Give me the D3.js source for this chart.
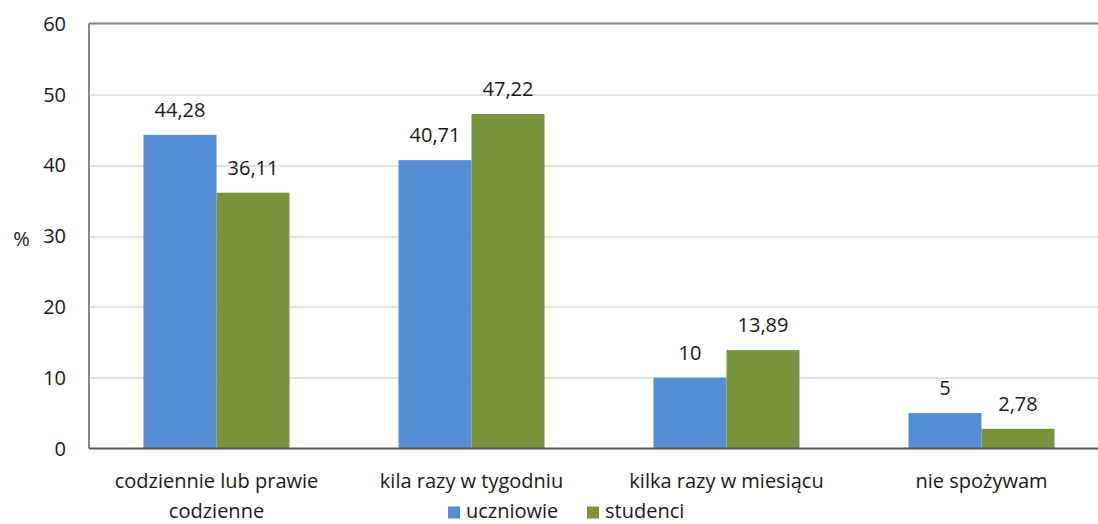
<!DOCTYPE html>
<html>
<head>
<meta charset="utf-8">
<script src="https://cdn.jsdelivr.net/npm/d3@7"></script>
<style>
  body { margin: 0; background: #fff; }
  text { font-family: "Open Sans", Lato, sans-serif; fill: #1a1a1a; }
</style>
</head>
<body>
<div id="chart-area"></div>
<script>
var categories = [["codziennie lub prawie", "codzienne"], ["kila razy w tygodniu"], ["kilka razy w miesiącu"], ["nie spożywam"]];
var seriesNames = ["uczniowie", "studenci"];
var uczniowie = [44.28, 40.71, 10, 5];
var studenci = [36.11, 47.22, 13.89, 2.78];
var yTicks = [0, 10, 20, 30, 40, 50, 60];
var colors = ["#558ED5", "#77933C"];

var W = 1098, H = 524;
var margin = { left: 89, right: -11, top: 23.5, bottom: 75.5 };
var width = W - margin.left - margin.right;
var height = H - margin.top - margin.bottom;
var fs = "20px";

var svg = d3.select("#chart-area").append("svg")
    .attr("width", W).attr("height", H);

var g = svg.append("g")
    .attr("transform", "translate(" + margin.left + "," + margin.top + ")");

var y = d3.scaleLinear().domain([0, 60]).range([height, 0]);
var x = d3.scaleBand().domain(d3.range(categories.length)).range([0, width]);
var x1 = d3.scaleBand().domain([0, 1])
    .range([x.bandwidth() / 2 - 73, x.bandwidth() / 2 + 73]);

// gridlines
g.selectAll(".grid").data(yTicks.filter(function(d){ return d > 0 && d < 60; }))
  .enter().append("line")
    .attr("x1", 0).attr("x2", width)
    .attr("y1", function(d){ return Math.round(y(d)) + 0.5; })
    .attr("y2", function(d){ return Math.round(y(d)) + 0.5; })
    .attr("stroke", "#D9D9D9").attr("stroke-width", 1.3);

// bars
var data = [];
categories.forEach(function(c, i){
    data.push({ cat: i, s: 0, v: uczniowie[i] });
    data.push({ cat: i, s: 1, v: studenci[i] });
});

g.selectAll("rect.bar").data(data).enter().append("rect")
    .attr("class", "bar")
    .attr("x", function(d){ return x(d.cat) + x1(d.s); })
    .attr("width", x1.bandwidth())
    .attr("y", function(d){ return y(d.v); })
    .attr("height", function(d){ return height - y(d.v); })
    .attr("fill", function(d){ return colors[d.s]; });

// value labels
g.selectAll("text.val").data(data).enter().append("text")
    .attr("class", "val")
    .attr("x", function(d){ return x(d.cat) + x1(d.s) + x1.bandwidth() / 2; })
    .attr("y", function(d){ return y(d.v) - 18; })
    .attr("text-anchor", "middle")
    .style("font-size", fs)
    .text(function(d){ return String(d.v).replace(".", ","); });

// frame lines
g.append("line").attr("x1", 0).attr("x2", width).attr("y1", 0).attr("y2", 0)
    .attr("stroke", "#868686").attr("stroke-width", 2);
g.append("line").attr("x1", 0).attr("x2", 0).attr("y1", 0).attr("y2", height)
    .attr("stroke", "#868686").attr("stroke-width", 2);
g.append("line").attr("x1", 0).attr("x2", width).attr("y1", height).attr("y2", height)
    .attr("stroke", "#595959").attr("stroke-width", 2);

// y tick labels
g.selectAll("text.ytick").data(yTicks).enter().append("text")
    .attr("class", "ytick")
    .attr("x", -23)
    .attr("y", function(d){ return y(d); })
    .attr("dy", "0.36em")
    .attr("text-anchor", "end")
    .style("font-size", fs)
    .text(function(d){ return d; });

svg.append("text")
    .attr("x", 21.5).attr("y", 239).attr("dy", "0.36em")
    .attr("text-anchor", "middle")
    .style("font-size", fs)
    .text("%");

// category labels
var cat = g.selectAll("text.cat").data(categories).enter().append("text")
    .attr("class", "cat")
    .attr("text-anchor", "middle")
    .style("font-size", fs);
cat.selectAll("tspan").data(function(d, i){ return d.map(function(t){ return { t: t, i: i }; }); })
  .enter().append("tspan")
    .attr("x", function(d){ return x(d.i) + x.bandwidth() / 2; })
    .attr("y", function(d, j){ return height + 39 + j * 30; })
    .text(function(d){ return d.t; });

// legend
var legendX = [448, 587];
var legend = svg.selectAll("g.legend").data(seriesNames).enter().append("g")
    .attr("transform", function(d, i){ return "translate(" + legendX[i] + ",506.5)"; });
legend.append("rect").attr("width", 12).attr("height", 12)
    .attr("fill", function(d, i){ return colors[i]; });
legend.append("text").attr("x", 18).attr("y", 11.5)
    .style("font-size", fs)
    .text(function(d){ return d; });
</script>
</body>
</html>
